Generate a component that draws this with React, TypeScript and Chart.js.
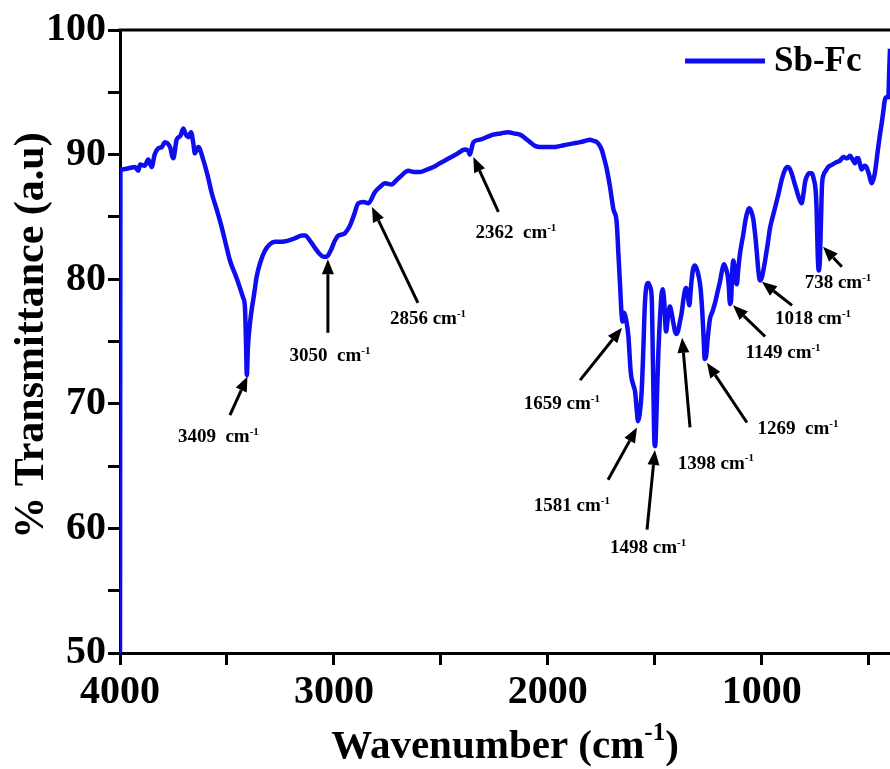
import React, { useEffect, useRef } from 'react';
import { Chart, registerables } from 'chart.js';

Chart.register(...registerables);

// Spectrum: wavenumber (cm-1) and % transmittance
const wavenumber = [
  4000, 3998, 3992, 3960, 3930, 3915, 3906, 3885, 3868, 3852, 3838, 3821, 3805, 3790, 3766, 3751, 3735, 3718, 3704, 3692,
  3681, 3668, 3658, 3650, 3634, 3611, 3590, 3571, 3548, 3525, 3505, 3486, 3455, 3424, 3416, 3411, 3407, 3402, 3392, 3384,
  3373, 3361, 3345, 3322, 3300, 3275, 3245, 3213, 3180, 3150, 3135, 3112, 3088, 3065, 3049, 3034, 3015, 2995, 2979, 2960,
  2948, 2925, 2905, 2886, 2862, 2839, 2808, 2785, 2761, 2730, 2710, 2691, 2652, 2625, 2597, 2565, 2535, 2505, 2473, 2430,
  2387, 2372, 2364, 2356, 2348, 2317, 2285, 2255, 2220, 2185, 2160, 2130, 2105, 2083, 2060, 2036, 2005, 1974, 1940, 1912,
  1880, 1849, 1825, 1803, 1785, 1771, 1760, 1748, 1735, 1725, 1709, 1693, 1678, 1670, 1662, 1655, 1650, 1643, 1634, 1623,
  1612, 1600, 1592, 1584, 1578, 1570, 1561, 1553, 1546, 1538, 1530, 1522, 1514, 1508, 1501, 1498, 1493, 1488, 1483, 1475,
  1468, 1463, 1456, 1447, 1438, 1429, 1420, 1413, 1405, 1397, 1390, 1382, 1374, 1364, 1354, 1346, 1338, 1330, 1321, 1312,
  1303, 1294, 1286, 1278, 1272, 1266, 1260, 1252, 1242, 1230, 1218, 1206, 1195, 1184, 1176, 1168, 1160, 1154, 1148, 1143,
  1138, 1133, 1127, 1121, 1116, 1110, 1101, 1086, 1075, 1065, 1058, 1050, 1039, 1030, 1023, 1015, 1008, 1000, 992, 984,
  972, 961, 950, 938, 922, 906, 893, 880, 870, 860, 848, 836, 825, 813, 805, 797, 790, 778, 766, 756,
  748, 743, 738, 733, 728, 723, 718, 710, 700, 689, 670, 649, 635, 618, 600, 587, 575, 564, 556, 548,
  540, 533, 520, 510, 498, 486, 478, 471, 463, 455, 447, 439, 431, 424, 416, 408, 404, 400,
];

const transmittance = [
  50.0, 88.6, 88.8, 88.9, 89.0, 88.7, 89.2, 89.1, 89.6, 89.0, 90.0, 90.5, 90.6, 91.0, 90.6, 89.7, 91.2, 91.5, 92.1, 91.6,
  91.4, 91.8, 91.0, 90.1, 90.6, 89.6, 88.3, 86.9, 85.6, 84.2, 82.8, 81.5, 80.1, 78.5, 77.8, 75.0, 72.3, 74.5, 76.5, 77.6,
  78.8, 80.2, 81.3, 82.3, 82.8, 83.0, 83.0, 83.1, 83.3, 83.5, 83.5, 83.1, 82.5, 82.0, 81.8, 81.8, 82.3, 83.1, 83.5, 83.6,
  83.7, 84.3, 85.2, 86.1, 86.2, 86.1, 87.0, 87.4, 87.7, 87.6, 87.9, 88.2, 88.7, 88.6, 88.6, 88.8, 89.0, 89.3, 89.6, 90.0,
  90.4, 90.3, 90.0, 90.5, 91.0, 91.2, 91.4, 91.6, 91.7, 91.8, 91.7, 91.6, 91.3, 91.0, 90.7, 90.6, 90.6, 90.6, 90.7, 90.8,
  90.9, 91.0, 91.1, 91.2, 91.1, 91.0, 90.8, 90.4, 89.6, 88.9, 87.4, 85.6, 84.6, 82.1, 79.5, 77.2, 76.6, 77.3, 76.8, 75.4,
  72.5, 71.5, 71.0, 69.5, 68.6, 69.2, 71.0, 74.5, 78.0, 79.5, 79.7, 79.4, 78.5, 73.0, 66.8, 66.6, 68.5, 71.5, 74.1, 77.0,
  78.8, 79.2, 78.3, 75.8, 77.0, 77.8, 77.2, 76.5, 75.8, 75.6, 75.9, 76.6, 77.3, 78.6, 79.3, 78.8, 77.9, 79.5, 80.8, 81.1,
  80.8, 80.2, 79.3, 77.5, 75.5, 73.6, 73.8, 75.3, 76.8, 77.4, 78.1, 79.0, 79.8, 80.8, 81.2, 80.9, 80.4, 79.5, 78.0, 78.3,
  80.5, 81.5, 81.0, 79.8, 79.6, 80.7, 82.1, 83.6, 84.8, 85.5, 85.7, 85.5, 84.8, 83.5, 82.2, 80.6, 79.9, 80.1, 80.7, 81.5,
  82.8, 84.1, 84.9, 85.7, 86.8, 88.0, 88.7, 89.0, 88.9, 88.5, 87.8, 87.1, 86.5, 86.1, 86.8, 87.8, 88.2, 88.5, 88.5, 88.0,
  87.2, 85.5, 82.0, 80.7, 81.5, 84.5, 87.5, 88.4, 88.7, 89.0, 89.2, 89.4, 89.5, 89.8, 89.7, 89.9, 89.6, 89.3, 89.7, 89.7,
  89.2, 88.8, 89.1, 89.0, 88.4, 87.7, 88.0, 88.5, 89.5, 90.6, 91.6, 92.5, 93.5, 94.4, 94.6, 94.6, 96.5, 98.5,
];

const seriesName = 'Sb-Fc';
const xTickValues = [500, 1000, 1500, 2000, 2500, 3000, 3500, 4000];
const xLabelEvery = 1000;
const yLabelEvery = 10;

// Peak annotations (data units)
const peakLabels = ['3409', '3050', '2856', '2362', '1659', '1581', '1498', '1398', '1269', '1149', '1018', '738'];
const peakSpacers = ['  ', '  ', ' ', '  ', ' ', ' ', ' ', ' ', '  ', ' ', ' ', ' '];
const peakTipX = [3404, 3028, 2822, 2348, 1653, 1583, 1499, 1372, 1256, 1134, 999, 713];
const peakTipY = [72.2, 81.6, 85.8, 89.8, 76.1, 68.1, 66.3, 75.3, 73.3, 77.9, 79.8, 82.6];
const peakTailX = [3486, 3028, 2607, 2231, 1849, 1718, 1536, 1335, 1069, 984, 858, 625];
const peakTailY = [69.1, 75.7, 78.1, 85.4, 71.9, 63.9, 59.9, 68.1, 68.5, 75.4, 77.9, 81.0];
const peakTextX = [3540, 3018, 2560, 2149, 1934, 1887, 1531, 1214, 830, 900, 760, 643];
const peakTextY = [67.4, 73.9, 76.9, 83.8, 70.1, 61.9, 58.5, 65.3, 68.1, 74.2, 76.9, 79.8];

const SERIF = "'Liberation Serif', 'Times New Roman', serif";
const LINE_COLOR = '#0d0df0';

function drawSupText(ctx: CanvasRenderingContext2D, main: string, sup: string, tail: string, cx: number, cy: number, size: number, supScale = 0.6, supRaise = 0.38) {
  const supSize = Math.round(size * supScale);
  ctx.font = `bold ${size}px ${SERIF}`;
  const wMain = ctx.measureText(main).width;
  const wTail = tail ? ctx.measureText(tail).width : 0;
  ctx.font = `bold ${supSize}px ${SERIF}`;
  const wSup = ctx.measureText(sup).width;
  const total = wMain + wSup + wTail;
  let x = cx - total / 2;
  const base = cy + size * 0.33;
  ctx.textAlign = 'left';
  ctx.textBaseline = 'alphabetic';
  ctx.font = `bold ${size}px ${SERIF}`;
  ctx.fillText(main, x, base);
  x += wMain;
  ctx.font = `bold ${supSize}px ${SERIF}`;
  ctx.fillText(sup, x, base - size * supRaise);
  x += wSup;
  if (tail) {
    ctx.font = `bold ${size}px ${SERIF}`;
    ctx.fillText(tail, x, base);
  }
}

const decorPlugin = {
  id: 'decor',
  afterDraw(chart: any) {
    const { ctx, chartArea, scales } = chart;
    const xs = scales.x;
    const ys = scales.y;
    ctx.save();
    // top frame line
    ctx.strokeStyle = '#000';
    ctx.lineWidth = 3;
    ctx.beginPath();
    ctx.moveTo(chartArea.left - 1.5, chartArea.top);
    ctx.lineTo(chartArea.right, chartArea.top);
    ctx.stroke();

    // annotations
    ctx.fillStyle = '#000';
    ctx.strokeStyle = '#000';
    for (let i = 0; i < peakLabels.length; i++) {
      const tx = xs.getPixelForValue(peakTipX[i]);
      const ty = ys.getPixelForValue(peakTipY[i]);
      const sx = xs.getPixelForValue(peakTailX[i]);
      const sy = ys.getPixelForValue(peakTailY[i]);
      const ang = Math.atan2(ty - sy, tx - sx);
      const headLen = 15;
      const headHalf = 6;
      const bx = tx - headLen * Math.cos(ang);
      const by = ty - headLen * Math.sin(ang);
      ctx.lineWidth = 3;
      ctx.beginPath();
      ctx.moveTo(sx, sy);
      ctx.lineTo(bx, by);
      ctx.stroke();
      ctx.beginPath();
      ctx.moveTo(tx, ty);
      ctx.lineTo(bx + headHalf * Math.sin(ang), by - headHalf * Math.cos(ang));
      ctx.lineTo(bx - headHalf * Math.sin(ang), by + headHalf * Math.cos(ang));
      ctx.closePath();
      ctx.fill();
      const cx = xs.getPixelForValue(peakTextX[i]);
      const cy = ys.getPixelForValue(peakTextY[i]);
      drawSupText(ctx, peakLabels[i] + peakSpacers[i] + 'cm', '-1', '', cx, cy, 19);
    }

    // legend
    const ly = chartArea.top + 31;
    ctx.strokeStyle = LINE_COLOR;
    ctx.lineWidth = 5;
    ctx.beginPath();
    ctx.moveTo(chartArea.right - 205, ly);
    ctx.lineTo(chartArea.right - 125, ly);
    ctx.stroke();
    ctx.fillStyle = '#000';
    ctx.font = `bold 35px ${SERIF}`;
    ctx.textAlign = 'left';
    ctx.textBaseline = 'middle';
    ctx.fillText(seriesName, chartArea.right - 116, ly + 1);

    // axis titles
    drawSupText(ctx, 'Wavenumber (cm', '-1', ')', (chartArea.left + chartArea.right) / 2, chart.height - 25, 41, 0.62, 0.42);
    ctx.save();
    ctx.translate(32, (chartArea.top + chartArea.bottom) / 2 - 6);
    ctx.rotate(-Math.PI / 2);
    ctx.font = `bold 42px ${SERIF}`;
    ctx.textAlign = 'center';
    ctx.textBaseline = 'middle';
    ctx.fillText('% Transmittance (a.u)', 0, 0);
    ctx.restore();
    ctx.restore();
  },
};

export default function App() {
  const canvasRef = useRef<HTMLCanvasElement | null>(null);

  useEffect(() => {
    document.body.style.margin = '0';
    const canvas = canvasRef.current;
    if (!canvas) return;
    const points = wavenumber.map((w, i) => ({ x: w, y: transmittance[i] }));
    const chart = new Chart(canvas, {
      type: 'line',
      data: {
        datasets: [
          {
            label: seriesName,
            data: points,
            borderColor: LINE_COLOR,
            backgroundColor: LINE_COLOR,
            borderWidth: 4.5,
            pointRadius: 0,
            tension: 0.3,
            cubicInterpolationMode: 'monotone',
          },
        ],
      },
      options: {
        animation: false,
        responsive: false,
        parsing: false,
        layout: { padding: { top: 30, right: 0, left: 0, bottom: 0 } },
        plugins: { legend: { display: false }, tooltip: { enabled: false } },
        scales: {
          x: {
            type: 'linear',
            min: 400,
            max: 4000,
            reverse: true,
            afterBuildTicks: (scale: any) => {
              scale.ticks = xTickValues.map((v) => ({ value: v }));
            },
            afterFit: (scale: any) => {
              scale.height = 116;
            },
            ticks: {
              autoSkip: false,
              maxRotation: 0,
              padding: 4,
              color: '#000',
              font: { family: SERIF, size: 40, weight: 'bold' },
              callback: (v: any) => (Number(v) % xLabelEvery === 0 ? String(v) : ''),
            },
            grid: { drawOnChartArea: false, drawTicks: true, tickLength: 12, lineWidth: 3, color: '#000' },
            border: { display: true, color: '#000', width: 3 },
          },
          y: {
            type: 'linear',
            min: 50,
            max: 100,
            afterFit: (scale: any) => {
              scale.width = 120;
            },
            ticks: {
              stepSize: 5,
              autoSkip: false,
              padding: 2,
              color: '#000',
              font: { family: SERIF, size: 40, weight: 'bold' },
              callback: (v: any) => (Number(v) % yLabelEvery === 0 ? String(v) : ''),
            },
            grid: { drawOnChartArea: false, drawTicks: true, tickLength: 12, lineWidth: 3, color: '#000' },
            border: { display: true, color: '#000', width: 3 },
          },
        },
      } as any,
      plugins: [decorPlugin],
    });
    return () => chart.destroy();
  }, []);

  return (
    <div style={{ width: 890, height: 769, background: '#fff' }}>
      <canvas ref={canvasRef} width={890} height={769} />
    </div>
  );
}
